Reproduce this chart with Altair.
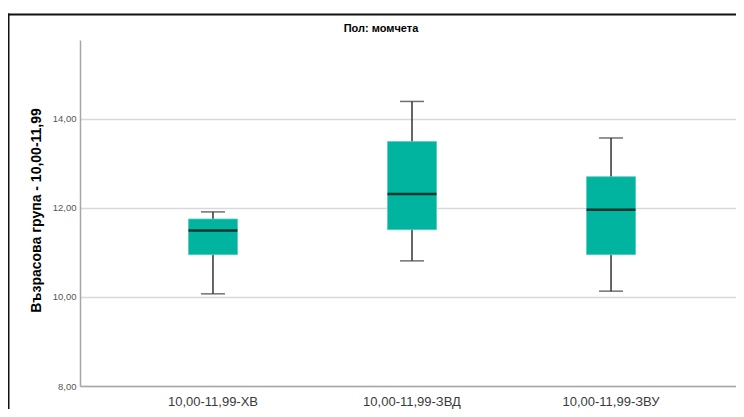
import altair as alt
import pandas as pd

categories = ["10,00-11,99-ХВ", "10,00-11,99-ЗВД", "10,00-11,99-ЗВУ"]
whisker_low = [10.07, 10.81, 10.13]
q1 = [10.95, 11.51, 10.95]
median = [11.49, 12.31, 11.96]
q3 = [11.75, 13.49, 12.70]
whisker_high = [11.91, 14.39, 13.57]

y_ticks = [8, 10, 12, 14]
chart_title = "Пол: момчета"
y_title = "Възрасова група - 10,00-11,99"

df = pd.DataFrame({
    "cat": categories,
    "lo": whisker_low,
    "q1": q1,
    "med": median,
    "q3": q3,
    "hi": whisker_high,
})

W, H = 656, 346
FONT = "Liberation Sans"

x_scale = alt.Scale(type="band", paddingInner=0, paddingOuter=0.148, align=0.568)
x_axis = alt.Axis(
    title=None, labelAngle=0, ticks=False, labelFontSize=13,
    labelColor="#3a3a3a", labelFont=FONT, labelPadding=9,
    domainColor="#a6a6a6", domainWidth=1.5, grid=False,
)


def xe(**kw):
    return alt.X("cat:N", sort=categories, scale=x_scale, axis=x_axis, **kw)


y_scale = alt.Scale(domain=[8, 15.77], nice=False, zero=False)
y_axis = alt.Axis(
    values=y_ticks,
    labelExpr="replace(format(datum.value, '.2f'), '.', ',')",
    ticks=False, labelFontSize=9.5, labelColor="#555555", labelFont=FONT,
    labelPadding=4, grid=True, gridColor="#d9d9d9", gridWidth=1.5,
    domainColor="#a6a6a6", domainWidth=1.5,
    title=y_title, titleFont=FONT, titleFontSize=14, titleFontWeight="bold",
    titleColor="#000000", titleAngle=-90, titleX=-44, titleY=170,
    titleAlign="center", titleBaseline="middle",
)

base = alt.Chart(df)

whisk = base.mark_rule(color="#333333", strokeWidth=1.5).encode(
    x=xe(bandPosition=0.5),
    y=alt.Y("lo:Q", scale=y_scale, axis=y_axis),
    y2="hi:Q",
)
box = base.mark_bar(size=49, color="#00b4a0", stroke="#5cc9bb", strokeWidth=0.8).encode(
    x=xe(),
    y=alt.Y("q1:Q", scale=y_scale),
    y2="q3:Q",
)
med = base.mark_tick(color="#000000", thickness=2.5, size=49).encode(
    x=xe(bandPosition=0.5), y=alt.Y("med:Q", scale=y_scale)
)
cap_lo = base.mark_tick(color="#333333", thickness=1.5, size=24).encode(
    x=xe(bandPosition=0.5), y=alt.Y("lo:Q", scale=y_scale)
)
cap_hi = base.mark_tick(color="#333333", thickness=1.5, size=24).encode(
    x=xe(bandPosition=0.5), y=alt.Y("hi:Q", scale=y_scale)
)

one = alt.Chart(pd.DataFrame({"t": [chart_title]}))
title_mark = one.mark_text(
    font=FONT, fontSize=11, fontWeight="bold",
    color="#000000", align="center", baseline="middle",
).encode(text="t:N", x=alt.value(301), y=alt.value(-11))
frame_top = one.mark_rule(color="#111111", strokeWidth=2).encode(
    x=alt.value(-72), x2=alt.value(700), y=alt.value(-25.5)
)
frame_left = one.mark_rule(color="#111111", strokeWidth=2).encode(
    x=alt.value(-71.5), y=alt.value(-26.5), y2=alt.value(400)
)

chart = alt.layer(
    whisk, box, med, cap_lo, cap_hi, title_mark, frame_top, frame_left
).properties(
    width=W, height=H,
    autosize=alt.AutoSizeParams(type="none"),
    padding={"left": 72, "top": 32, "right": 0, "bottom": 23},
    background="white",
).configure_view(stroke=None)

chart.save("out.html", embed_options={"renderer": "svg", "actions": False})
